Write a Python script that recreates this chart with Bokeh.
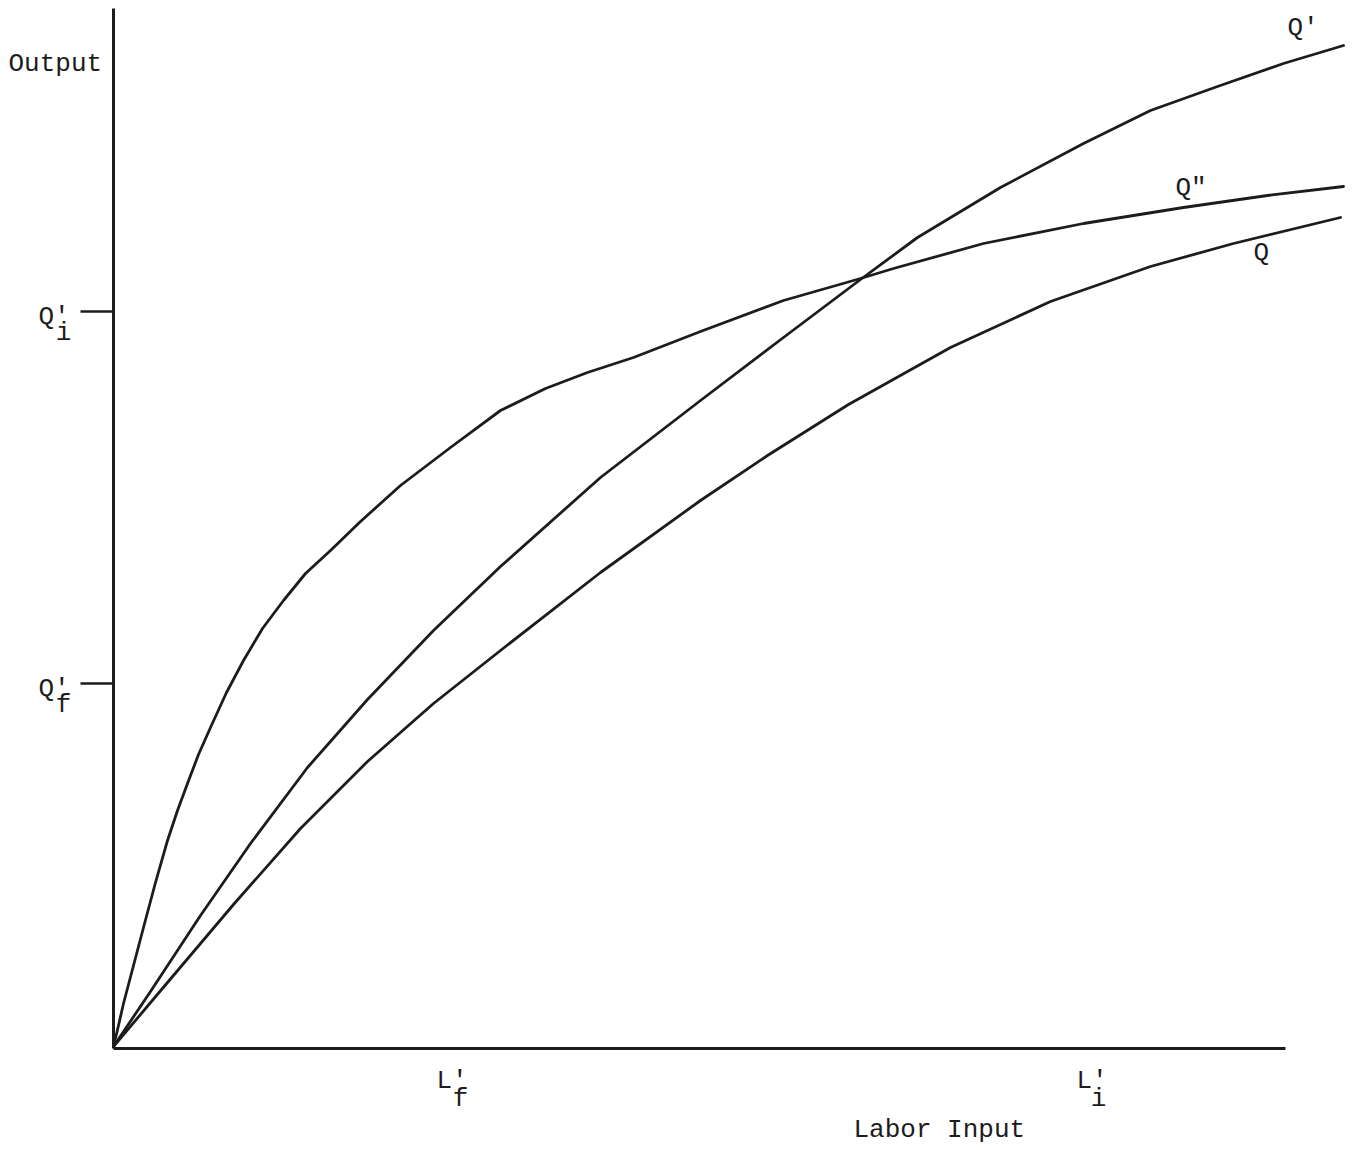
from bokeh.plotting import figure
from bokeh.models import LinearAxis, FixedTicker, CustomJSTickFormatter
from bokeh.core.properties import value
from bokeh.embed import file_html
from bokeh.resources import INLINE

# ---- data ----
# Curve Q'' (rises fastest at first, then flattens)
q2_labor = [0.0, 0.5, 1.0, 2.0, 3.0, 4.2, 5.4, 6.4, 7.4, 8.5, 9.7, 11.3, 13.0, 14.9,
            17.0, 19.2, 21.7, 24.7, 28.7, 33.7, 38.7, 43.2, 47.4, 52.0, 58.7, 67.0,
            74.7, 78.0, 87.0, 97.0, 107.0, 115.4, 123.0]
q2_output = [0.2, 2.3, 4.5, 8.3, 12.1, 16.6, 20.8, 23.8, 26.5, 29.4, 32.1, 35.6, 38.8,
             42.0, 44.8, 47.5, 49.8, 52.7, 56.3, 60.1, 63.8, 66.0, 67.6, 69.1, 71.7,
             74.8, 77.0, 78.0, 80.5, 82.5, 84.1, 85.3, 86.2]
# Curve Q'
q1_labor = [0.0, 3.7, 8.7, 13.7, 19.4, 25.4, 32.0, 38.7, 48.7, 58.7, 67.0, 74.7,
            80.4, 88.7, 97.0, 103.7, 110.4, 117.0, 123.0]
q1_output = [0.2, 5.7, 13.3, 20.5, 28.1, 34.9, 41.8, 48.2, 57.1, 64.8, 71.1, 76.9,
             81.1, 86.1, 90.5, 93.8, 96.2, 98.5, 100.3]
# Curve Q
q0_labor = [0.0, 5.4, 12.0, 18.7, 25.4, 32.0, 38.7, 48.7, 58.7, 65.4, 73.5, 83.7,
            93.7, 103.7, 112.0, 122.7]
q0_output = [0.2, 6.6, 14.4, 22.0, 28.7, 34.5, 39.8, 47.6, 54.8, 59.3, 64.4, 70.1,
             74.7, 78.2, 80.5, 83.1]

# marked levels on the axes
q_f_level = 36.5
q_i_level = 73.7
l_f_level = 33.3
l_i_level = 97.2

y_axis_top = 104.0
x_axis_right = 117.2

FONT = value("Liberation Mono")
INK = "#1c1c1c"
FS = "26px"

p = figure(width=1355, height=1148, x_range=(-11.3, 124.2), y_range=(-10.0, 104.8),
           output_backend="svg", toolbar_location=None,
           x_axis_location=None, y_axis_location=None,
           min_border=0, min_border_left=0, min_border_right=0,
           min_border_top=0, min_border_bottom=0)
p.outline_line_color = None
p.grid.visible = False
p.background_fill_color = "white"
p.border_fill_color = "white"

blank = CustomJSTickFormatter(code="return ''")

yaxis = LinearAxis(fixed_location=0, bounds=(0, y_axis_top),
                   ticker=FixedTicker(ticks=[q_f_level, q_i_level]),
                   formatter=blank, major_tick_out=33, major_tick_in=0,
                   minor_tick_out=0, minor_tick_in=0,
                   axis_line_width=3, axis_line_color=INK,
                   major_tick_line_width=2.5, major_tick_line_color=INK)
xaxis = LinearAxis(fixed_location=0, bounds=(0, x_axis_right),
                   ticker=FixedTicker(ticks=[]), formatter=blank,
                   major_tick_out=0, major_tick_in=0,
                   minor_tick_out=0, minor_tick_in=0,
                   axis_line_width=3, axis_line_color=INK)
p.add_layout(yaxis, "left")
p.add_layout(xaxis, "below")

for xs, ys in [(q2_labor, q2_output), (q1_labor, q1_output), (q0_labor, q0_output)]:
    p.line(xs, ys, line_width=2.8, line_color=INK, line_join="round", line_cap="round")

def txt(x, y, s, align="left"):
    p.text(x=[x], y=[y], text=[s], text_font=FONT, text_font_size=FS,
           text_color=INK, text_align=align, text_baseline="alphabetic")

# axis titles
txt(-10.5, 98.5, "Output")
txt(74.0, -8.15, "Labor Input")

# y-axis level labels
txt(-7.5, 73.2, "Q'")
txt(-5.0, 71.6, "i", align="center")
txt(-7.5, 36.0, "Q'")
txt(-5.0, 34.4, "f", align="center")

# x-axis level labels
txt(l_f_level - 1.0, -3.2, "L'")
txt(l_f_level + 1.4, -5.0, "f", align="center")
txt(l_i_level - 0.9, -3.2, "L'")
txt(l_i_level + 1.3, -5.0, "i", align="center")

# curve labels
txt(117.4, 102.1, "Q'")
txt(106.2, 86.1, 'Q"')
txt(114.0, 79.6, "Q")

open("out.html", "w").write(file_html(p, INLINE))
